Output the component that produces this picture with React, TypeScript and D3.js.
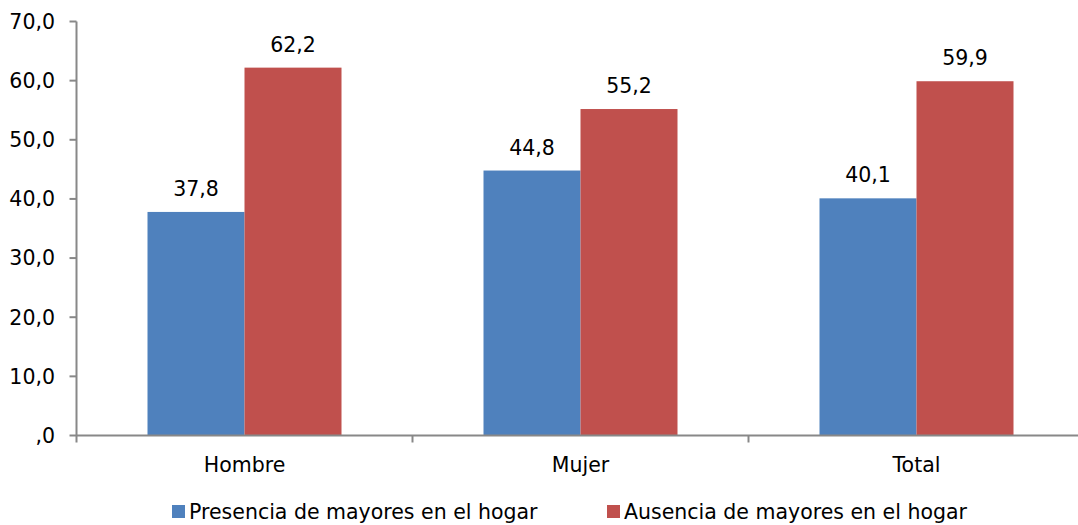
import React from "react";
import * as d3 from "d3";

const categories = ["Hombre", "Mujer", "Total"];
const seriesNames = ["Presencia de mayores en el hogar", "Ausencia de mayores en el hogar"];
const presencia = [37.8, 44.8, 40.1];
const ausencia = [62.2, 55.2, 59.9];
const yTicks = [0, 10, 20, 30, 40, 50, 60, 70];
const colors = ["#4F81BD", "#C0504D"];

const W = 1078;
const H = 525;
const FONT = "'DejaVu Sans', Verdana, sans-serif";
const FS = 20.5;

export default function App() {
  const x0 = 76.5;
  const bandW = 336;
  const x = d3.scaleBand<string>().domain(categories).range([x0, x0 + bandW * 3]).paddingInner(0).paddingOuter(0);
  const y = d3.scaleLinear().domain([0, 70]).range([435.5, 21.5]);
  const sub = d3.scaleBand<number>().domain([0, 1]).range([71, bandW - 71]).padding(0);
  const series = [presencia, ausencia];
  const fmt = (v: number) => {
    const s = v.toFixed(1).replace(".", ",");
    return s.startsWith("0,") ? s.slice(1) : s;
  };
  return (
    <svg width={W} height={H} style={{ position: "absolute", left: 0, top: 0, fontFamily: FONT }}>
      <rect width={W} height={H} fill="#fff" />
      {series.map((vals, si) =>
        vals.map((v, ci) => {
          const bx = (x(categories[ci]) as number) + (sub(si) as number);
          return (
            <g key={`${si}-${ci}`}>
              <rect x={bx} y={y(v)} width={sub.bandwidth()} height={y(0) - y(v)} fill={colors[si]} />
              <text x={bx + sub.bandwidth() / 2} y={y(v) - 16} textAnchor="middle" fontSize={FS} fill="#000">
                {fmt(v)}
              </text>
            </g>
          );
        })
      )}
      {/* y axis */}
      <line x1={x0} x2={x0} y1={y(70)} y2={y(0) + 7} stroke="#888" strokeWidth={2} />
      {yTicks.map((t) => (
        <g key={t}>
          <line x1={x0 - 7} x2={x0} y1={y(t)} y2={y(t)} stroke="#888" strokeWidth={2} />
          <text x={55} y={y(t)} dy="0.36em" textAnchor="end" fontSize={FS} fill="#000">
            {fmt(t)}
          </text>
        </g>
      ))}
      {/* x axis */}
      <line x1={x0} x2={x0 + bandW * 3} y1={y(0)} y2={y(0)} stroke="#888" strokeWidth={2} />
      {[1, 2, 3].map((i) => (
        <line key={i} x1={x0 + bandW * i} x2={x0 + bandW * i} y1={y(0)} y2={y(0) + 7} stroke="#888" strokeWidth={2} />
      ))}
      {categories.map((c) => (
        <text key={c} x={(x(c) as number) + bandW / 2} y={472} textAnchor="middle" fontSize={FS} fill="#000">
          {c}
        </text>
      ))}
      {/* legend */}
      {[172, 607].map((lx, i) => (
        <g key={i}>
          <rect x={lx} y={505} width={13} height={13} fill={colors[i]} />
          <text x={lx + 17} y={519} fontSize={FS} fill="#000">
            {seriesNames[i]}
          </text>
        </g>
      ))}
    </svg>
  );
}
